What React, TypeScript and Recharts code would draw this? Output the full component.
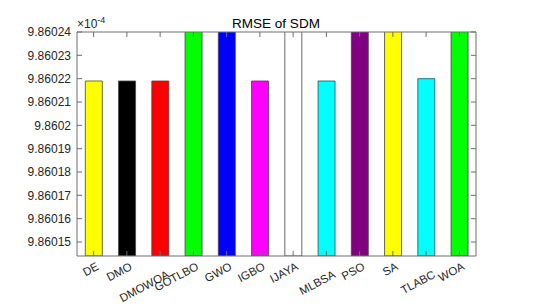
import React from "react";
import { BarChart, Bar, XAxis, YAxis, Cell } from "recharts";

const categories = ["DE", "DMO", "DMOWOA", "GOTLBO", "GWO", "IGBO", "IJAYA", "MLBSA", "PSO", "SA", "TLABC", "WOA"];
// RMSE values in units of 1e-4 (bars above 9.86024 are clipped by the axis)
const rmse = [9.860219, 9.860219, 9.860219, 9.8603, 9.8603, 9.860219, 9.8603, 9.860219, 9.8603, 9.8603, 9.86022, 9.8603];
const barColors = ["#ffff00", "#000000", "#ff0000", "#00ff00", "#0000ff", "#ff00ff", "#ffffff", "#00ffff", "#800080", "#ffff00", "#00ffff", "#00ff00"];
const yTicks = [9.86015, 9.86016, 9.86017, 9.86018, 9.86019, 9.8602, 9.86021, 9.86022, 9.86023, 9.86024];
const yDomain = [9.860144, 9.86024];

const data = categories.map((name, i) => ({ name, value: rmse[i] }));

// labels pushed one line lower in the reference to avoid overlap
const lowered = new Set(["DMOWOA", "MLBSA", "TLABC"]);

const AX = "#6e6e6e";
const TXT = "#262626";
const FONT = "'Liberation Sans', Arial, Helvetica, sans-serif";

const fmt = (v: number) => String(Number(v.toFixed(5)));

const XTick = (props: any) => {
  const { x, y, payload } = props;
  const low = lowered.has(payload.value);
  const ax = x + 6 + (low ? 4 : 0);
  const ay = y + 13 + (low ? 8 : 0);
  return (
    <g transform={`translate(${ax},${ay}) rotate(-28)`}>
      <text x={0} y={0} textAnchor="end" fontSize={11.5} fontFamily={FONT} fill={TXT}>
        {payload.value}
      </text>
    </g>
  );
};

const Empty = () => <g />;

export default function App() {
  return (
    <div style={{ position: "relative", width: 549, height: 300 }}>
      <BarChart
        width={549}
        height={300}
        data={data}
        margin={{ top: 23, right: 80, bottom: 12, left: 9 }}
        barCategoryGap="25%"
      >
        <XAxis
          xAxisId="bottom"
          dataKey="name"
          orientation="bottom"
          height={40}
          interval={0}
          tickSize={-5}
          tickMargin={5}
          tick={<XTick />}
          axisLine={{ stroke: AX }}
          tickLine={{ stroke: AX }}
        />
        <XAxis
          xAxisId="top"
          dataKey="name"
          orientation="top"
          height={1}
          interval={0}
          tickSize={-5}
          tick={<Empty />}
          axisLine={{ stroke: AX }}
          tickLine={{ stroke: AX }}
        />
        <YAxis
          yAxisId="left"
          orientation="left"
          width={60}
          domain={yDomain}
          allowDataOverflow
          ticks={yTicks}
          interval={0}
          tickFormatter={fmt}
          tickSize={-5}
          tickMargin={11}
          tick={{ fontSize: 12, fontFamily: FONT, fill: TXT }}
          axisLine={{ stroke: AX }}
          tickLine={{ stroke: AX }}
        />
        <YAxis
          yAxisId="right"
          orientation="right"
          width={1}
          domain={yDomain}
          allowDataOverflow
          ticks={yTicks}
          interval={0}
          tickSize={-5}
          tick={<Empty />}
          axisLine={{ stroke: AX }}
          tickLine={{ stroke: AX }}
        />
        <Bar
          dataKey="value"
          xAxisId="bottom"
          yAxisId="left"
          isAnimationActive={false}
          stroke="#444"
          strokeWidth={0.8}
        >
          {data.map((d, i) => (
            <Cell key={d.name} fill={barColors[i]} />
          ))}
        </Bar>
      </BarChart>
      <svg
        width={549}
        height={300}
        style={{ position: "absolute", left: 0, top: 0, pointerEvents: "none" }}
      >
        <text x={268} y={20} textAnchor="middle" fontSize={13.5} fontFamily={FONT} fill="#000">
          RMSE of SDM
        </text>
        <text x={69} y={20} fontSize={12} fontFamily={FONT} fill={TXT}>
          ×10
          <tspan dy={-5} fontSize={9}>-4</tspan>
        </text>
      </svg>
    </div>
  );
}
